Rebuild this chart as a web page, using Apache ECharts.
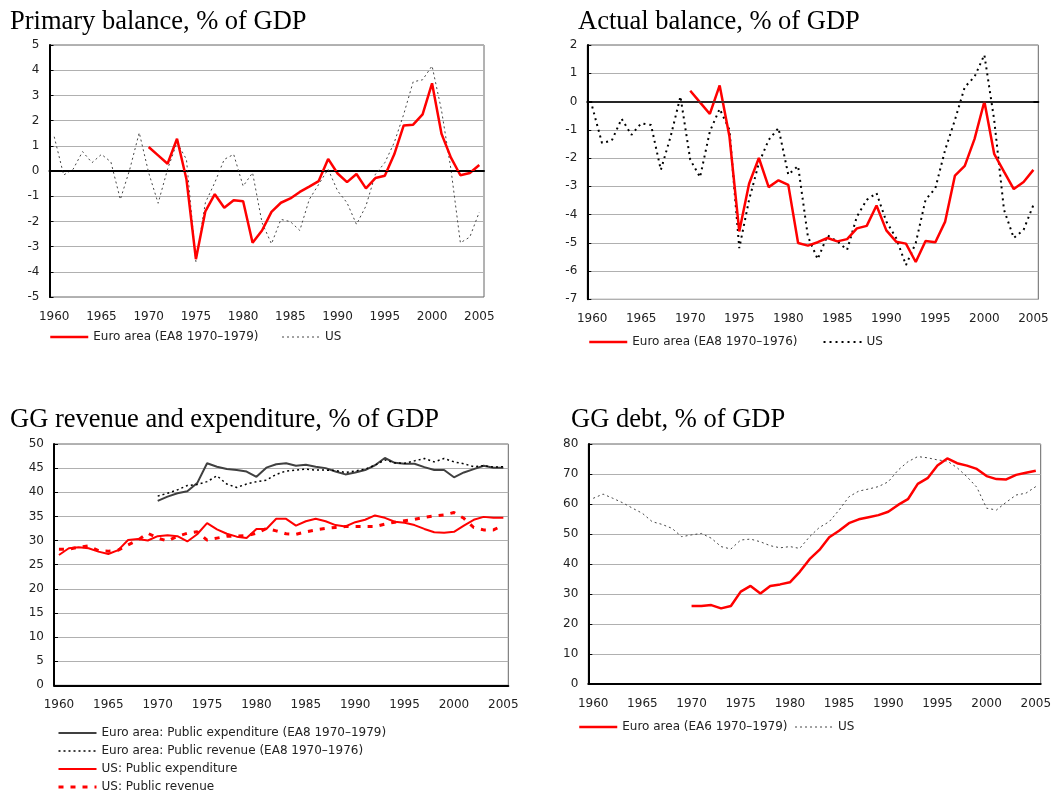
<!DOCTYPE html>
<html>
<head>
<meta charset="utf-8">
<script src="https://cdn.jsdelivr.net/npm/echarts@6/dist/echarts.min.js"></script>
<style>
  body { margin: 0; background: #fff; overflow: hidden; }
  .panel { position: absolute; width: 530px; height: 398px; }
</style>
</head>
<body>
<div id="p1" class="panel" style="left:0;top:0"></div>
<div id="p2" class="panel" style="left:530px;top:0"></div>
<div id="p3" class="panel" style="left:0;top:398px;height:420px"></div>
<div id="p4" class="panel" style="left:530px;top:398px"></div>
<script>
// years on the x axis
const years = [];
for (let y = 1960; y <= 2005; y++) years.push(String(y));

// primary balance, % of GDP
const euroPrimary = [0.95, 0.62, 0.29, 1.28, -0.33, -3.5, -1.6, -0.92, -1.46, -1.16,
  -1.2, -2.85, -2.36, -1.62, -1.26, -1.09, -0.83, -0.62, -0.4, 0.48,
  -0.1, -0.44, -0.12, -0.69, -0.28, -0.19, 0.66, 1.81, 1.84, 2.25,
  3.48, 1.48, 0.53, -0.17, -0.08, 0.24]  // 1970-2005
const usPrimary = [1.36, -0.16, 0.07, 0.77, 0.33, 0.66, 0.36, -1.13, 0.07, 1.52,
  -0.07, -1.28, 0.07, 1.13, 0.46, -3.6, -1.26, -0.46, 0.46, 0.66,
  -0.6, -0.07, -2.05, -2.89, -1.92, -2.01, -2.36, -1.13, -0.53, 0.07,
  -0.79, -1.26, -2.12, -1.39, -0.13, 0.33, 1.13, 2.25, 3.54, 3.62,
  4.17, 2.41, 0.07, -2.85, -2.62, -1.63]  // 1960-2005

// actual balance, % of GDP
const euroActual = [0.38, -0.03, -0.44, 0.57, -1.24, -4.6, -2.91, -2.0, -3.03, -2.79,
  -2.95, -5.01, -5.1, -4.98, -4.83, -4.95, -4.87, -4.49, -4.4, -3.68,
  -4.56, -4.96, -5.03, -5.68, -4.94, -4.98, -4.25, -2.62, -2.28, -1.32,
  0.0, -1.85, -2.48, -3.1, -2.85, -2.42]
const usActual = [-0.18, -1.47, -1.38, -0.61, -1.18, -0.77, -0.83, -2.42, -1.24, 0.18,
  -2.06, -2.68, -1.06, -0.26, -1.0, -5.19, -3.48, -2.18, -1.36, -0.94,
  -2.59, -2.28, -4.78, -5.58, -4.74, -4.95, -5.25, -4.07, -3.48, -3.24,
  -4.25, -4.83, -5.79, -5.01, -3.48, -3.07, -1.71, -0.65, 0.51, 0.88,
  1.65, -0.65, -3.83, -4.83, -4.54, -3.66]

// revenue and expenditure, % of GDP
const euroExpenditure = [38.2, 39.1, 39.8, 40.2, 41.9, 46.0, 45.3, 44.8, 44.6, 44.3,
  43.2, 45.1, 45.8, 46.0, 45.5, 45.7, 45.3, 45.0, 44.3, 43.7,
  44.1, 44.6, 45.6, 47.1, 46.1, 45.9, 45.9, 45.2, 44.6, 44.6,
  43.1, 44.1, 44.8, 45.5, 45.1, 45.1]
const euroRevenue = [39.2, 39.8, 40.5, 41.4, 41.6, 42.2, 43.4, 41.7, 41.0, 41.7,
  42.2, 42.5, 43.7, 44.4, 44.6, 44.8, 44.6, 44.6, 44.5, 44.1,
  44.4, 44.8, 45.6, 46.7, 46.1, 46.0, 46.5, 47.0, 46.3, 47.0,
  46.3, 45.9, 45.3, 45.5, 45.2, 45.3]
const usExpenditure = [27.0, 28.4, 28.6, 28.4, 27.7, 27.2, 28.0, 30.1, 30.3, 30.0,
  30.9, 31.1, 30.9, 29.8, 31.3, 33.6, 32.3, 31.4, 30.8, 30.5,
  32.4, 32.4, 34.5, 34.5, 33.1, 34.0, 34.5, 34.0, 33.2, 32.9,
  33.8, 34.3, 35.2, 34.7, 33.9, 33.7, 33.2, 32.4, 31.7, 31.6,
  31.8, 33.1, 34.3, 34.9, 34.7, 34.7]
const usRevenue = [28.2, 28.2, 28.6, 28.9, 27.9, 27.8, 28.0, 29.1, 30.1, 31.5,
  30.5, 29.9, 30.9, 31.5, 31.8, 30.1, 30.5, 30.9, 30.9, 31.0,
  31.5, 32.5, 32.0, 31.4, 31.3, 31.8, 32.2, 32.5, 32.7, 32.9,
  32.9, 32.9, 32.9, 33.4, 33.8, 34.1, 34.4, 34.8, 35.1, 35.3,
  35.8, 34.6, 32.7, 32.2, 32.2, 33.2]

// gross debt, % of GDP
const euroDebt = [26.0, 26.0, 26.3, 25.2, 26.0, 30.8, 32.7, 30.2, 32.7, 33.2,
  33.9, 37.4, 41.6, 44.7, 48.9, 51.1, 53.6, 54.9, 55.6, 56.3,
  57.4, 59.7, 61.6, 66.7, 68.6, 72.8, 75.2, 73.6, 72.8, 71.7,
  69.3, 68.3, 68.2, 69.7, 70.4, 71.1]
const usDebt = [61.9, 63.3, 61.9, 60.4, 58.6, 56.9, 54.1, 53.2, 51.9, 49.1,
  49.7, 50.2, 48.6, 45.8, 45.0, 48.0, 48.3, 47.4, 46.1, 45.4,
  45.8, 45.2, 49.1, 52.2, 54.1, 58.0, 62.4, 64.3, 65.0, 65.8,
  67.4, 71.3, 74.1, 75.8, 75.4, 74.7, 74.3, 72.1, 69.1, 65.6,
  58.6, 58.0, 60.6, 63.0, 63.6, 65.8]

// euro series start in 1970
function from1970(arr) {
  return new Array(10).fill(null).concat(arr)
}

const FONT = 'DejaVu Sans'
const RED = '#ff0000'

function baseOption(title, titleLeft, grid, yMin, yMax, yStep) {
  return {
    animation: false,
    title: {
      text: title, left: titleLeft, top: 4,
      textStyle: { fontFamily: 'Liberation Serif', fontSize: 26.5, fontWeight: 'normal', color: '#000' }
    },
    grid: Object.assign({ show: true, borderColor: '#666', borderWidth: 1 }, grid),
    xAxis: {
      type: 'category', data: years, boundaryGap: true,
      axisLine: { lineStyle: { color: '#000', width: 2 } },
      axisTick: { inside: true, length: 4, interval: 4, lineStyle: { color: '#000' } },
      axisLabel: { interval: 4, margin: 14, color: '#222', fontFamily: FONT, fontSize: 12 },
      splitLine: { show: false }
    },
    yAxis: {
      type: 'value', min: yMin, max: yMax, interval: yStep,
      axisLine: { show: true, lineStyle: { color: '#000', width: 2 } },
      axisTick: { show: true, inside: true, length: 4, lineStyle: { color: '#000' } },
      axisLabel: { margin: 10, color: '#222', fontFamily: FONT, fontSize: 12 },
      splitLine: { lineStyle: { color: '#b0b0b0', width: 1 } }
    },
    legend: {
      itemWidth: 38, itemHeight: 14,
      itemStyle: { opacity: 0 },
      lineStyle: { width: 'inherit' },
      textStyle: { fontFamily: FONT, fontSize: 12, color: '#222' }
    },
    series: []
  }
}

function lineSeries(name, data, color, width, type) {
  return {
    name: name, type: 'line', data: data, symbol: 'none',
    connectNulls: false,
    lineStyle: { color: color, width: width, type: type },
    itemStyle: { color: color }
  }
}

function zeroLine(color, width) {
  return {
    silent: true, symbol: 'none', label: { show: false },
    lineStyle: { color: color, width: width, type: 'solid' },
    data: [[{ coord: ['1960', 0] }, { coord: ['2005', 0] }]]
  }
}

// chart 1: primary balance
let opt1 = baseOption('Primary balance, % of GDP', 5,
  { left: 49.5, top: 45, width: 434.5, height: 252 }, -5, 5, 1)
opt1.legend.left = 44
opt1.legend.top = 326
opt1.legend.itemGap = 23
opt1.legend.data = ['Euro area (EA8 1970–1979)', 'US']
let s1 = lineSeries('Euro area (EA8 1970–1979)', from1970(euroPrimary), RED, 2.5, 'solid')
s1.z = 3
let u1 = lineSeries('US', usPrimary, '#444', 1, [2, 3])
u1.markLine = zeroLine('#000', 1)
opt1.series = [u1, s1]
echarts.init(document.getElementById('p1')).setOption(opt1)

// chart 2: actual balance
let opt2 = baseOption('Actual balance, % of GDP', 43,
  { left: 57.3, top: 45, width: 451, height: 254.3 }, -7, 2, 1)
opt2.legend.left = 53
opt2.legend.top = 331
opt2.legend.itemGap = 25
opt2.legend.data = ['Euro area (EA8 1970–1976)', 'US']
let s2 = lineSeries('Euro area (EA8 1970–1976)', from1970(euroActual), RED, 2.5, 'solid')
s2.z = 3
let u2 = lineSeries('US', usActual, '#000', 2, [2, 4])
u2.markLine = zeroLine('#333', 1.5)
opt2.series = [u2, s2]
echarts.init(document.getElementById('p2')).setOption(opt2)

// chart 3: revenue and expenditure
let opt3 = baseOption('GG revenue and expenditure, % of GDP', 5,
  { left: 54, top: 46, width: 454.3, height: 241.3 }, 0, 50, 5)
opt3.legend.left = 52
opt3.legend.top = 324
opt3.legend.orient = 'vertical'
opt3.legend.itemGap = 6
opt3.legend.data = ['Euro area: Public expenditure (EA8 1970–1979)',
  'Euro area: Public revenue (EA8 1970–1976)',
  'US: Public expenditure', 'US: Public revenue']
opt3.series = [
  lineSeries('Euro area: Public expenditure (EA8 1970–1979)', from1970(euroExpenditure), '#404040', 2, 'solid'),
  lineSeries('Euro area: Public revenue (EA8 1970–1976)', from1970(euroRevenue), '#000', 1.5, [2, 3]),
  lineSeries('US: Public expenditure', usExpenditure, RED, 2, 'solid'),
  lineSeries('US: Public revenue', usRevenue, RED, 3, [5, 7])
]
echarts.init(document.getElementById('p3')).setOption(opt3)

// chart 4: debt
let opt4 = baseOption('GG debt, % of GDP', 36,
  { left: 58.3, top: 46, width: 452.4, height: 240 }, 0, 80, 10)
opt4.legend.left = 43
opt4.legend.top = 318
opt4.legend.itemGap = 7
opt4.legend.data = ['Euro area (EA6 1970–1979)', 'US']
let s4 = lineSeries('Euro area (EA6 1970–1979)', from1970(euroDebt), RED, 2.5, 'solid')
s4.z = 3
opt4.series = [lineSeries('US', usDebt, '#444', 1, [2, 3]), s4]
echarts.init(document.getElementById('p4')).setOption(opt4)
</script>
</body>
</html>
